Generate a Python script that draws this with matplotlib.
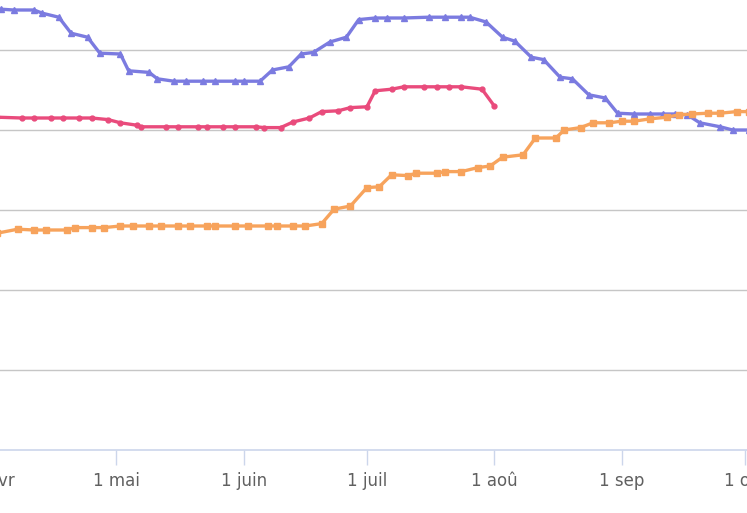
import numpy as np
import pandas as pd
import matplotlib
matplotlib.use("Agg")
import matplotlib.pyplot as plt
import matplotlib.dates as mdates

# --- data (arbitrary units, one grid step = 1) ---
blue_dates = ["2023-03-28", "2023-04-03", "2023-04-06", "2023-04-11", "2023-04-13", "2023-04-17",
              "2023-04-20", "2023-04-24", "2023-04-27", "2023-05-02", "2023-05-04", "2023-05-09",
              "2023-05-11", "2023-05-15", "2023-05-18", "2023-05-22", "2023-05-25", "2023-05-30",
              "2023-06-01", "2023-06-05", "2023-06-08", "2023-06-12", "2023-06-15", "2023-06-18",
              "2023-06-22", "2023-06-26", "2023-06-29", "2023-07-03", "2023-07-06", "2023-07-10",
              "2023-07-16", "2023-07-20", "2023-07-24", "2023-07-26", "2023-07-30", "2023-08-03",
              "2023-08-06", "2023-08-10", "2023-08-13", "2023-08-17", "2023-08-20", "2023-08-24",
              "2023-08-28", "2023-08-31", "2023-09-04", "2023-09-08", "2023-09-11", "2023-09-14",
              "2023-09-17", "2023-09-20", "2023-09-25", "2023-09-28", "2023-10-02"]
blue_values = [5.51, 5.51, 5.50, 5.50, 5.46, 5.41,
               5.21, 5.16, 4.96, 4.95, 4.74, 4.72,
               4.64, 4.61, 4.61, 4.61, 4.61, 4.61,
               4.61, 4.61, 4.75, 4.79, 4.95, 4.97,
               5.10, 5.16, 5.38, 5.40, 5.40, 5.40,
               5.41, 5.41, 5.41, 5.41, 5.35, 5.16,
               5.11, 4.91, 4.88, 4.66, 4.64, 4.44,
               4.40, 4.21, 4.20, 4.20, 4.20, 4.20,
               4.19, 4.09, 4.04, 4.00, 4.00]

pink_dates = ["2023-03-28", "2023-04-02", "2023-04-08", "2023-04-11", "2023-04-15", "2023-04-18",
              "2023-04-22", "2023-04-25", "2023-04-29", "2023-05-02", "2023-05-06", "2023-05-07",
              "2023-05-13", "2023-05-16", "2023-05-21", "2023-05-23", "2023-05-27", "2023-05-30",
              "2023-06-04", "2023-06-06", "2023-06-10", "2023-06-13", "2023-06-17", "2023-06-20",
              "2023-06-24", "2023-06-27", "2023-07-01", "2023-07-03", "2023-07-07", "2023-07-10",
              "2023-07-15", "2023-07-18", "2023-07-21", "2023-07-24", "2023-07-29", "2023-08-01"]
pink_values = [4.16, 4.16, 4.15, 4.15, 4.15, 4.15,
               4.15, 4.15, 4.13, 4.09, 4.06, 4.04,
               4.04, 4.04, 4.04, 4.04, 4.04, 4.04,
               4.04, 4.03, 4.03, 4.10, 4.15, 4.23,
               4.24, 4.28, 4.29, 4.49, 4.51, 4.54,
               4.54, 4.54, 4.54, 4.54, 4.51, 4.30]

orange_dates = ["2023-03-28", "2023-04-02", "2023-04-07", "2023-04-11", "2023-04-14", "2023-04-19",
                "2023-04-21", "2023-04-25", "2023-04-28", "2023-05-02", "2023-05-05", "2023-05-09",
                "2023-05-12", "2023-05-16", "2023-05-19", "2023-05-23", "2023-05-25", "2023-05-30",
                "2023-06-02", "2023-06-07", "2023-06-09", "2023-06-13", "2023-06-16", "2023-06-20",
                "2023-06-23", "2023-06-27", "2023-07-01", "2023-07-04", "2023-07-07", "2023-07-11",
                "2023-07-13", "2023-07-18", "2023-07-20", "2023-07-24", "2023-07-28", "2023-07-31",
                "2023-08-03", "2023-08-08", "2023-08-11", "2023-08-16", "2023-08-18", "2023-08-22",
                "2023-08-25", "2023-08-29", "2023-09-01", "2023-09-04", "2023-09-08", "2023-09-12",
                "2023-09-15", "2023-09-18", "2023-09-22", "2023-09-25", "2023-09-29", "2023-10-02"]
orange_values = [2.68, 2.71, 2.76, 2.75, 2.75, 2.75,
                 2.78, 2.78, 2.78, 2.80, 2.80, 2.80,
                 2.80, 2.80, 2.80, 2.80, 2.80, 2.80,
                 2.80, 2.80, 2.80, 2.80, 2.80, 2.83,
                 3.01, 3.05, 3.28, 3.29, 3.44, 3.43,
                 3.46, 3.46, 3.48, 3.48, 3.53, 3.55,
                 3.66, 3.69, 3.90, 3.90, 4.00, 4.03,
                 4.09, 4.09, 4.11, 4.11, 4.14, 4.16,
                 4.19, 4.20, 4.21, 4.21, 4.23, 4.23]

tick_dates = ["2023-04-01", "2023-05-01", "2023-06-01", "2023-07-01",
              "2023-08-01", "2023-09-01", "2023-10-01"]
tick_labels = ["1 avr", "1 mai", "1 juin", "1 juil", "1 aoû", "1 sep", "1 oct"]
grid_values = [1, 2, 3, 4, 5]

fig = plt.figure(figsize=(7.47, 5.13), dpi=100)
ax = fig.add_axes([0, 63 / 513, 1, 450 / 513])

ax.plot(pd.to_datetime(blue_dates), blue_values, color="#7b7be0", lw=2.4,
        marker="^", ms=4, zorder=3)
ax.plot(pd.to_datetime(pink_dates), pink_values, color="#e94b7c", lw=2.4,
        marker="o", ms=3.5, zorder=3)
ax.plot(pd.to_datetime(orange_dates), orange_values, color="#f7a35c", lw=2.4,
        marker="s", ms=5, zorder=3)

ax.set_yticks(grid_values)
ax.yaxis.grid(True, color="#c6c6c6", lw=1)
ax.tick_params(axis="y", left=False, labelleft=False)

tick_len, tick_pad, label_size = 11, 5, 12
ax.set_xticks(pd.to_datetime(tick_dates))
ax.set_xticklabels(tick_labels)
ax.tick_params(axis="x", direction="out", length=tick_len, width=1, color="#ccd6eb",
               pad=tick_pad, labelsize=label_size, labelcolor="#606060")

# visible window (set after the ticks, which would otherwise widen it)
start = pd.Timestamp("2023-04-01")
ax.set_xlim(start + pd.Timedelta(days=1.7), start + pd.Timedelta(days=183.5))
ax.set_ylim(0, 5.625)

# the first tick (1 avr) sits just left of the window: draw its label by hand
ax.annotate(tick_labels[0], xy=(mdates.date2num(pd.Timestamp(tick_dates[0])), 0),
            xycoords=ax.get_xaxis_transform(),
            xytext=(0, -(tick_len + tick_pad)), textcoords="offset points",
            ha="center", va="top", fontsize=label_size, color="#606060",
            annotation_clip=False)

for side in ["top", "left", "right"]:
    ax.spines[side].set_visible(False)
ax.spines["bottom"].set_color("#ccd6eb")
ax.spines["bottom"].set_linewidth(1.2)
ax.set_axisbelow(True)

fig.savefig("out.png", dpi=100)
